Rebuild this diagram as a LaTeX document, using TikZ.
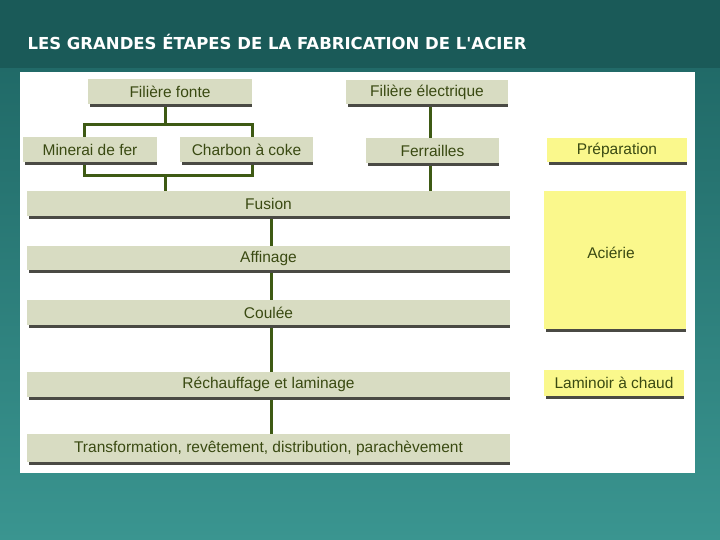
\documentclass[tikz,border=0pt]{standalone}
\usepackage{fontspec}
\setmainfont{Liberation Sans}
\newfontfamily\titlefont{DejaVu Sans}
\definecolor{bgtop}{HTML}{1D6462}
\definecolor{bgbot}{HTML}{3A9590}
\definecolor{boxf}{HTML}{D8DCC2}
\definecolor{yel}{HTML}{FAF88C}
\definecolor{ln}{HTML}{3E5A14}
\definecolor{txt}{HTML}{3A4A12}
\definecolor{shd}{HTML}{4A4A44}
\begin{document}
\begin{tikzpicture}[x=1pt,y=-1pt,
  bx/.style={fill=boxf},
  yb/.style={fill=yel},
  lab/.style={text=txt,font=\fontsize{15.5}{17}\selectfont},
  conn/.style={draw=ln,line width=3pt}]
\useasboundingbox (0,0) rectangle (720,540);
\shade[top color=bgtop,bottom color=bgbot] (0,0) rectangle (720,540);
\fill[bgtop!90!black] (0,0) rectangle (720,68);
\node[anchor=west,text=white,font=\titlefont\bfseries\fontsize{16.5}{20}\selectfont] (title) at (24,42) {LES GRANDES ÉTAPES DE LA FABRICATION DE L'ACIER};
\fill[white] (20,72) rectangle (695,473);
% connectors (behind boxes)
\coordinate (jt) at (165,125);
\coordinate (jl) at (84,125);
\coordinate (jr) at (252,125);
\coordinate (bl) at (84,176);
\coordinate (br) at (252,176);
\coordinate (bm) at (165,176);
\draw[conn] (165,105) -- (jt);
\draw[conn] (bl) -- (jl) -- (jr) -- (br) -- cycle;
\draw[conn] (bm) -- (165,192);
\draw[conn] (430,105) -- (430,192);
\draw[conn] (271,216) -- (271,436);
% boxes
\newcommand{\bxx}[7]{%
 \fill[#6] (#1,#2) rectangle (#3,#4);
 \fill[shd] (#1+2,#4) rectangle (#3,#4+3);
 \node[lab] (#5) at ({(#1+#3)/2},{(#2+#4)/2}) {#7};}
\bxx{88}{79}{252}{104}{ff}{bx}{Filière fonte}
\bxx{346}{80}{508}{104}{fe}{bx}{Filière électrique}
\bxx{23}{137}{157}{162}{mf}{bx}{Minerai de fer}
\bxx{180}{137}{313}{162}{cc}{bx}{Charbon à coke}
\bxx{366}{138}{499}{163}{fr}{bx}{Ferrailles}
\bxx{27}{191}{510}{216}{fu}{bx}{Fusion}
\bxx{27}{246}{510}{270}{af}{bx}{Affinage}
\bxx{27}{300}{510}{325}{co}{bx}{Coulée}
\bxx{27}{372}{510}{397}{re}{bx}{Réchauffage et laminage}
\bxx{27}{434}{510}{462}{tr}{bx}{Transformation, revêtement, distribution, parachèvement}
\bxx{547}{138}{687}{162}{pr}{yb}{Préparation}
\bxx{544}{191}{686}{329}{ac}{yb}{}
\node[lab] (acl) at (611,253) {Aciérie};
\bxx{544}{370}{684}{396}{la}{yb}{Laminoir à chaud}
\end{tikzpicture}
\end{document}
